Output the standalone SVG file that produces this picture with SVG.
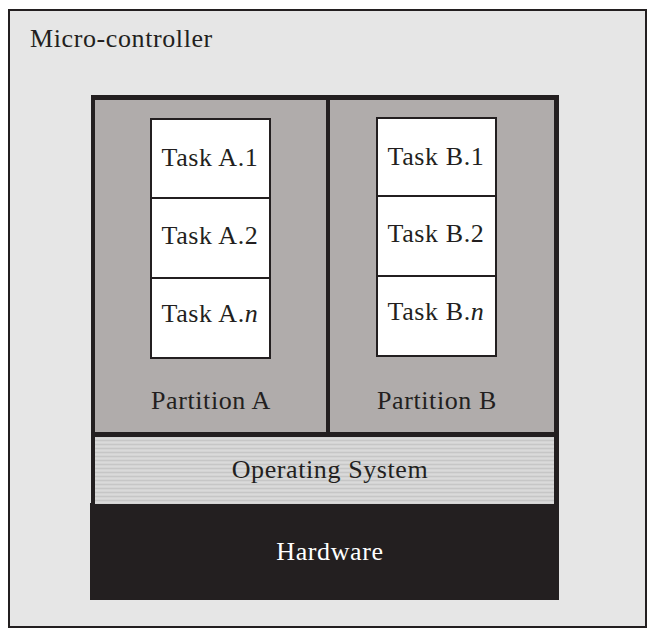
<svg xmlns="http://www.w3.org/2000/svg" width="648" height="630" viewBox="0 0 648 630">
  <style>
    .lbl { font-family: "Liberation Serif", "DejaVu Serif", serif; font-size: 26px; letter-spacing: 0.6px; fill: #231f20; }
    .mid { text-anchor: middle; }
    .task { fill: #ffffff; stroke: #231f20; stroke-width: 2; }
    .part { fill: #b0acab; }
  </style>
  <defs>
    <!-- fine horizontal banding used for the OS layer -->
    <pattern id="stripes" width="8" height="4" patternUnits="userSpaceOnUse">
      <rect width="8" height="4" fill="#d4d4d4"/>
      <rect y="0" width="8" height="1" fill="#c6c6c6"/>
      <rect y="2" width="8" height="1" fill="#dadada"/>
    </pattern>
  </defs>

  <!-- micro-controller enclosure -->
  <g id="microcontroller">
    <rect x="9" y="10" width="637" height="617" fill="#e6e6e6" stroke="#231f20" stroke-width="2"/>
    <text class="lbl" x="30" y="47">Micro-controller</text>
  </g>

  <!-- hardware layer -->
  <g id="hardware">
    <rect x="90" y="503" width="469" height="97" fill="#231f20"/>
    <text class="lbl mid" x="330" y="560" style="fill:#ffffff">Hardware</text>
  </g>

  <!-- operating system layer -->
  <g id="os">
    <rect x="91" y="95" width="468" height="410" fill="#231f20"/>
    <rect x="95" y="437" width="459" height="67" fill="url(#stripes)"/>
    <text class="lbl mid" x="330" y="478">Operating System</text>
  </g>

  <!-- partition A -->
  <g id="partitionA">
    <rect class="part" x="95" y="100" width="231" height="332"/>
    <text class="lbl mid" x="211" y="409">Partition A</text>
  </g>

  <!-- partition B -->
  <g id="partitionB">
    <rect class="part" x="330" y="100" width="224" height="332"/>
    <text class="lbl mid" x="437" y="409">Partition B</text>
  </g>

  <!-- tasks in partition A -->
  <g id="taskA1">
    <rect class="task" x="151" y="119" width="119" height="79"/>
    <text class="lbl mid" x="210" y="166">Task A.1</text>
  </g>
  <g id="taskA2">
    <rect class="task" x="151" y="198" width="119" height="80"/>
    <text class="lbl mid" x="210" y="244">Task A.2</text>
  </g>
  <g id="taskAn">
    <rect class="task" x="151" y="278" width="119" height="80"/>
    <text class="lbl mid" x="210" y="322">Task A.<tspan font-style="italic">n</tspan></text>
  </g>

  <!-- tasks in partition B -->
  <g id="taskB1">
    <rect class="task" x="377" y="118" width="119" height="78"/>
    <text class="lbl mid" x="436" y="165">Task B.1</text>
  </g>
  <g id="taskB2">
    <rect class="task" x="377" y="196" width="119" height="80"/>
    <text class="lbl mid" x="436" y="242">Task B.2</text>
  </g>
  <g id="taskBn">
    <rect class="task" x="377" y="276" width="119" height="80"/>
    <text class="lbl mid" x="436" y="320">Task B.<tspan font-style="italic">n</tspan></text>
  </g>

  <g id="connectors"></g>
</svg>
